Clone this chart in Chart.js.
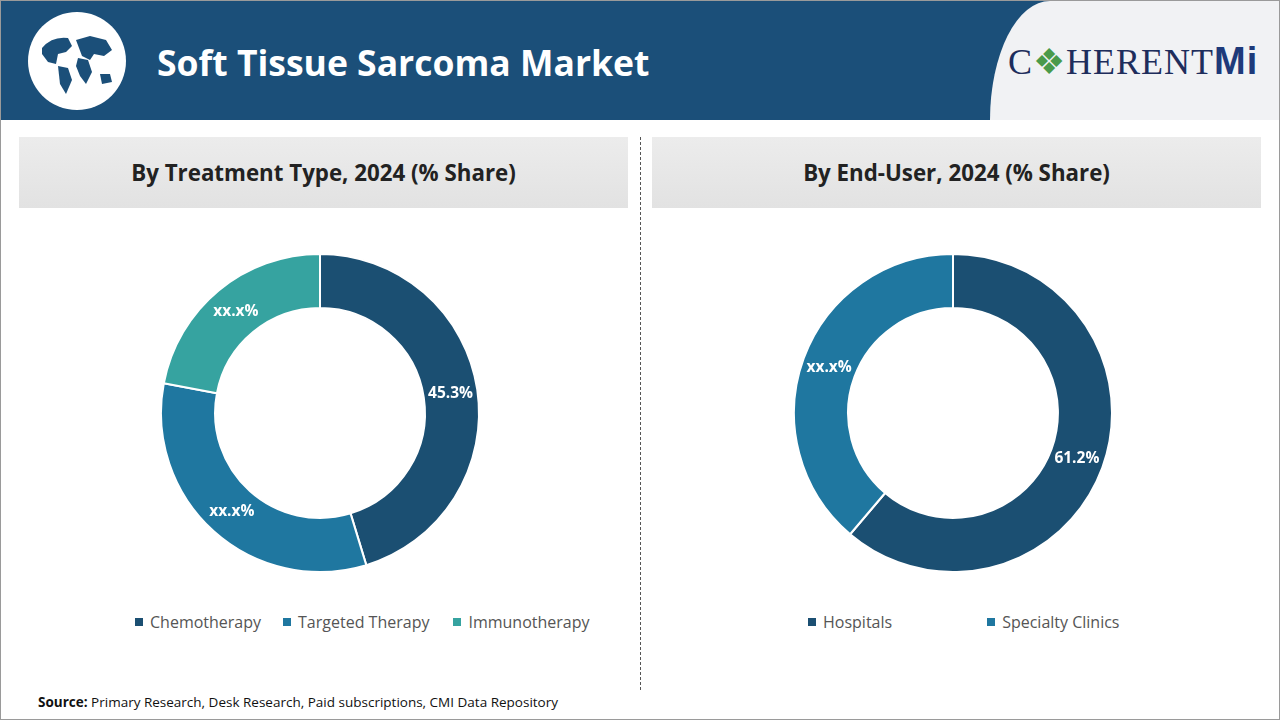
<!DOCTYPE html>
<html><head><meta charset="utf-8">
<script src="https://cdn.jsdelivr.net/npm/chart.js@4"></script>
<style>
body{margin:0;width:1280px;height:720px;position:relative;font-family:"Open Sans",sans-serif;background:#fff;overflow:hidden}
#frame{position:absolute;left:0;top:0;width:1278px;height:718px;border:1px solid #9a9a9a}
#hdr{position:absolute;left:1px;top:1px;width:1278px;height:119px;background:#1b4f79}
#logoBox{position:absolute;left:990px;top:1px;width:289px;height:119px;background:#f1f2f4;border-top-left-radius:60px 119px}
#globe{position:absolute;left:28px;top:12px;width:98px;height:98px;border-radius:50%;background:#fff}
#title{position:absolute;left:157px;top:38px;color:#fff;font-size:35.5px;font-weight:bold}
#logo{position:absolute;left:1008px;top:40px;font-family:"Liberation Serif",serif;font-size:36px;color:#1e2d5c;letter-spacing:1px}
.ph{position:absolute;top:137px;height:71px;width:609px;background:linear-gradient(#ececec,#e2e2e2);text-align:center;line-height:71px;font-size:22.3px;font-weight:bold;color:#222}
#dash{position:absolute;left:640px;top:137px;height:553px;border-left:1px dashed #555}
.cv{position:absolute;top:253px;width:602px;height:320px}
.lg{position:absolute;top:611px;font-size:16px;color:#555;white-space:nowrap}
.lg span{display:inline-block;width:8px;height:8px;margin-right:7px;vertical-align:middle;position:relative;top:-2px}
#src{position:absolute;left:38px;top:693px;font-size:13.5px;color:#111}
</style></head><body>
<div id="frame"></div>
<div id="hdr"></div>
<div id="logoBox"></div>
<div id="globe"><svg width="98" height="98" viewBox="0 0 98 98"><g fill="#1b4f79"><path d="M14 36 q10-12 26-10 l4 8 -6 6 -8 2 -2 10 -8 -2 -6-8z"/><path d="M30 54 l10 2 4 12 -6 14 -6-10z"/><path d="M48 28 l14-4 16 4 6 10 -8 6 -10-2 -4 6 -8-4z"/><path d="M50 46 l10 2 4 12 -6 12 -6-8 -4-10z"/><path d="M72 62 l10 0 2 8 -10 2z"/></g></svg></div>
<div id="title">Soft Tissue Sarcoma Market</div>
<div id="logo">C<span style="color:#4a9a4a">&#x2756;</span>HERENT<b style="font-family:'Liberation Sans',sans-serif;font-size:38px;color:#1e3a7a">Mi</b></div>
<div class="ph" style="left:19px">By Treatment Type, 2024 (% Share)</div>
<div class="ph" style="left:652px">By End-User, 2024 (% Share)</div>
<div id="dash"></div>
<canvas id="c1" class="cv" style="left:19px"></canvas>
<canvas id="c2" class="cv" style="left:652px"></canvas>
<div class="lg" style="left:135px"><span style="background:#1b4f72"></span>Chemotherapy<span style="margin-left:22px;background:#1f77a0"></span>Targeted Therapy<span style="margin-left:24px;background:#36a3a0"></span>Immunotherapy</div>
<div class="lg" style="left:808px"><span style="background:#1b4f72"></span>Hospitals<span style="margin-left:95px;background:#1f77a0"></span>Specialty Clinics</div>
<div id="src"><b>Source:</b> Primary Research, Desk Research, Paid subscriptions, CMI Data Repository</div>
<script>
const treatmentLabels=["Chemotherapy","Targeted Therapy","Immunotherapy"];
const treatmentValues=[45.3,32.7,22.0];
const treatmentText=["45.3%","xx.x%","xx.x%"];
const endUserLabels=["Hospitals","Specialty Clinics"];
const endUserValues=[61.2,38.8];
const endUserText=["61.2%","xx.x%"];
const labelPlugin={id:'lbl',afterDatasetsDraw(ch){const ctx=ch.ctx;const meta=ch.getDatasetMeta(0);const txt=ch.options.plugins.lbl.text;
ctx.save();ctx.fillStyle='#fff';ctx.font='bold 15.5px "Open Sans"';ctx.textAlign='center';ctx.textBaseline='middle';
meta.data.forEach((a,i)=>{const p=a.tooltipPosition();ctx.fillText(txt[i],p.x,p.y);});ctx.restore();}};
function mk(id,labels,vals,cols,txt){new Chart(document.getElementById(id),{type:'doughnut',
data:{labels,datasets:[{data:vals,backgroundColor:cols,borderColor:'#fff',borderWidth:2}]},
options:{responsive:false,animation:false,cutout:'66%',layout:{padding:0},plugins:{legend:{display:false},tooltip:{enabled:false},lbl:{text:txt}}},
plugins:[labelPlugin]});}
for(const id of ['c1','c2']){const c=document.getElementById(id);c.width=602;c.height=320;}
mk('c1',treatmentLabels,treatmentValues,['#1b4f72','#1f77a0','#36a3a0'],treatmentText);
mk('c2',endUserLabels,endUserValues,['#1b4f72','#1f77a0'],endUserText);
</script></body></html>
